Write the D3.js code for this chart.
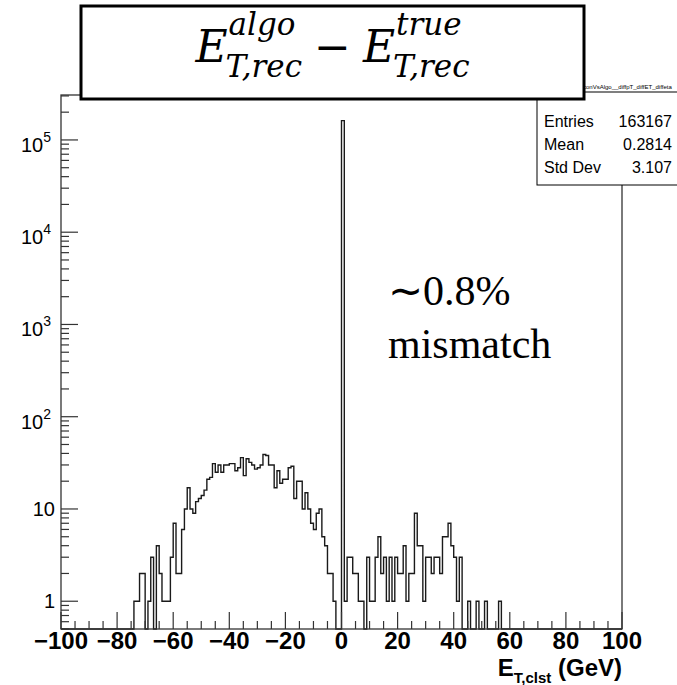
<!DOCTYPE html>
<html>
<head>
<meta charset="utf-8">
<script src="https://cdn.jsdelivr.net/npm/d3@7"></script>
<style>
  body { margin: 0; background: #fff; }
  svg { display: block; }
</style>
</head>
<body>
<svg id="chart" width="677" height="685"></svg>
<script>
// ---- histogram content: 1 GeV bins, listed from binLow upward; empty elsewhere ----
const binLow = -75;
const binWidth = 1;
const counts = [
  0, 1, 1, 2, 2, 0, 1, 3, 0, 4,          // -75 .. -66
  2, 1, 1, 1, 3, 7, 2, 2, 6, 10,         // -65 .. -56
  17, 10, 9, 12, 13, 14, 16, 21, 22, 31, // -55 .. -46
  25, 30, 25, 30, 30, 31, 31, 26, 28, 36,// -45 .. -36
  23, 35, 32, 30, 27, 28, 30, 39, 38, 30,// -35 .. -26
  30, 17, 26, 19, 21, 21, 28, 29, 13, 20,// -25 .. -16
  20, 10, 15, 10, 7, 6, 9, 10, 5, 4,     // -15 .. -6
  2, 2, 1, 0, 0, 161906, 1, 3, 3, 2,     // -5 .. 4
  2, 1, 1, 0, 3, 1, 1, 3, 5, 2,          // 5 .. 14
  3, 1, 3, 1, 3, 2, 2, 4, 1, 2,          // 15 .. 24
  2, 9, 4, 4, 1, 3, 3, 2, 3, 3,          // 25 .. 34
  2, 5, 5, 7, 4, 3, 1, 3, 0, 0,          // 35 .. 44
  1, 0, 0, 1, 0, 0, 1, 0, 0, 0,          // 45 .. 54
  0, 1, 0                                // 55 .. 57
];

const xDomain = [-100, 100];
const yDomain = [0.5, 3.07e5];
const xLabels = [-100, -80, -60, -40, -20, 0, 20, 40, 60, 80, 100];
const yDecades = [1, 10, 100, 1000, 10000, 100000];

const statsName = "hReconVsAlgo__diffpT_diffET_diffeta";
const statsLabels = ["Entries", "Mean", "Std Dev"];
const statsValues = ["163167", "0.2814", "3.107"];

const noteLines = ["\u223C0.8%", "mismatch"];

// ---- layout ----
const frame = { left: 61, right: 622, top: 95, bottom: 629 };
const svg = d3.select("#chart");
svg.append("rect").attr("width", 677).attr("height", 685).attr("fill", "#fff");

const x = d3.scaleLinear().domain(xDomain).range([frame.left, frame.right]);
const y = d3.scaleLog().domain(yDomain).range([frame.bottom, frame.top]);
const yOf = v => (v > 0 ? y(v) : frame.bottom);

const sans = "'Liberation Sans', Arial, Helvetica, sans-serif";
const serif = "'Liberation Serif', 'Times New Roman', serif";
const ink = "#1a1a1a";

// ---- histogram outline (step line over the full axis range) ----
const nBins = (xDomain[1] - xDomain[0]) / binWidth;
const bins = d3.range(nBins).map(i => {
  const lo = xDomain[0] + i * binWidth;
  const j = Math.round((lo - binLow) / binWidth);
  return { lo, hi: lo + binWidth, v: (j >= 0 && j < counts.length) ? counts[j] : 0 };
});
const path = d3.path();
path.moveTo(x(xDomain[0]), frame.bottom);
bins.forEach(b => {
  path.lineTo(x(b.lo), yOf(b.v));
  path.lineTo(x(b.hi), yOf(b.v));
});
path.lineTo(x(xDomain[1]), frame.bottom);

svg.append("path")
  .attr("d", path.toString())
  .attr("fill", "none")
  .attr("stroke", ink)
  .attr("stroke-width", 1.4)
  .attr("stroke-linejoin", "miter");

// ---- frame ----
svg.append("rect")
  .attr("x", frame.left).attr("y", frame.top)
  .attr("width", frame.right - frame.left).attr("height", frame.bottom - frame.top)
  .attr("fill", "none").attr("stroke", "#333").attr("stroke-width", 1.3);

// ---- x axis ticks (inside the frame) ----
const xMinor = d3.range(xDomain[0], xDomain[1] + 0.01, 5);
svg.append("g").selectAll("line").data(xMinor).join("line")
  .attr("x1", d => x(d)).attr("x2", d => x(d))
  .attr("y1", frame.bottom)
  .attr("y2", d => frame.bottom - (d % 20 === 0 ? 17 : 8))
  .attr("stroke", "#333").attr("stroke-width", 1.2);

svg.append("g").selectAll("text").data(xLabels).join("text")
  .attr("x", d => x(d)).attr("y", 649)
  .attr("text-anchor", "middle")
  .attr("font-family", sans).attr("font-weight", "bold").attr("font-size", 24)
  .attr("fill", "#000")
  .text(d => (d < 0 ? "\u2212" + Math.abs(d) : String(d)));

// x axis title: E_{T,clst} (GeV)
const xt = svg.append("text")
  .attr("font-family", sans).attr("font-weight", "bold").attr("fill", "#000")
  .attr("text-anchor", "end")
  .attr("x", frame.right).attr("y", 676);
xt.append("tspan").attr("font-size", 24).text("E");
xt.append("tspan").attr("font-size", 15).attr("dy", 7).text("T,clst");
xt.append("tspan").attr("font-size", 24).attr("dy", -7).text(" (GeV)");

// ---- y axis ticks (log) ----
const yTickVals = [];
[-1, 0, 1, 2, 3, 4, 5].forEach(p => {
  for (let m = 1; m <= 9; m++) {
    const v = m * Math.pow(10, p);
    if (v >= yDomain[0] && v <= yDomain[1]) yTickVals.push({ v, major: m === 1 });
  }
});
svg.append("g").selectAll("line").data(yTickVals).join("line")
  .attr("x1", frame.left)
  .attr("x2", d => frame.left + (d.major ? 17 : 8))
  .attr("y1", d => y(d.v)).attr("y2", d => y(d.v))
  .attr("stroke", "#333").attr("stroke-width", 1.2);

const yl = svg.append("g").attr("font-family", sans).attr("fill", "#000");
yDecades.forEach(v => {
  const p = Math.round(Math.log10(v));
  const ty = y(v);
  if (p <= 1) {
    yl.append("text").attr("x", 55).attr("y", ty + 7)
      .attr("text-anchor", "end").attr("font-size", 20).text(String(v));
  } else {
    const t = yl.append("text").attr("x", 51).attr("y", ty + 12).attr("text-anchor", "end");
    t.append("tspan").attr("font-size", 20).text("10");
    t.append("tspan").attr("font-size", 14).attr("dy", -10).text(String(p));
  }
});

// ---- annotation ----
noteLines.forEach((s, i) => {
  svg.append("text")
    .attr("x", 388).attr("y", 305 + i * 53)
    .attr("font-family", serif).attr("font-size", 42).attr("fill", "#000")
    .text(s);
});

// ---- statistics box ----
const sb = { x: 537, top: 92, bottom: 185, right: 700 };
svg.append("rect")
  .attr("x", sb.x).attr("y", sb.top)
  .attr("width", sb.right - sb.x).attr("height", sb.bottom - sb.top)
  .attr("fill", "#fff").attr("stroke", "#000").attr("stroke-width", 1);
svg.append("text")
  .attr("x", 572).attr("y", 89)
  .attr("font-family", sans).attr("font-size", 6).attr("fill", "#000")
  .text(statsName);
statsLabels.forEach((s, i) => {
  const ty = 121 + i * 23;
  svg.append("text").attr("x", 544).attr("y", ty + 6)
    .attr("font-family", sans).attr("font-size", 16).attr("fill", "#000").text(s);
  svg.append("text").attr("x", 672).attr("y", ty + 6).attr("text-anchor", "end")
    .attr("font-family", sans).attr("font-size", 16).attr("fill", "#000").text(statsValues[i]);
});

// ---- title box with the formula E^{algo}_{T,rec} − E^{true}_{T,rec} ----
const tb = { x: 81, y: 6, w: 503, h: 93 };
svg.append("rect")
  .attr("x", tb.x).attr("y", tb.y).attr("width", tb.w).attr("height", tb.h)
  .attr("fill", "#fff").attr("stroke", "#000").attr("stroke-width", 3);

const mathFont = "'DejaVu Serif', serif";
const g = svg.append("g");
const bigSize = 44, scriptSize = 31;
const baseY = 62, supY = 35, subY = 77;
let cx = 0;
function term(sup, sub) {
  const e = g.append("text").attr("x", cx).attr("y", baseY)
    .attr("font-family", mathFont).attr("font-style", "italic")
    .attr("font-size", bigSize).text("E");
  cx += e.node().getComputedTextLength() + 1;
  const a = g.append("text").attr("x", cx).attr("y", supY)
    .attr("font-family", mathFont).attr("font-style", "italic")
    .attr("font-size", scriptSize).text(sup);
  const b = g.append("text").attr("x", cx - 3).attr("y", subY)
    .attr("font-family", mathFont).attr("font-style", "italic")
    .attr("font-size", scriptSize).text(sub);
  cx += Math.max(a.node().getComputedTextLength(), b.node().getComputedTextLength() - 3);
}
term("algo", "T,rec");
cx += 12;
const m = g.append("text").attr("x", cx).attr("y", baseY)
  .attr("font-family", mathFont).attr("font-size", bigSize).text("\u2212");
cx += m.node().getComputedTextLength() + 12;
term("true", "T,rec");
const totalW = cx;
g.attr("transform", `translate(${tb.x + tb.w / 2 - totalW / 2},0)`);
</script>
</body>
</html>
